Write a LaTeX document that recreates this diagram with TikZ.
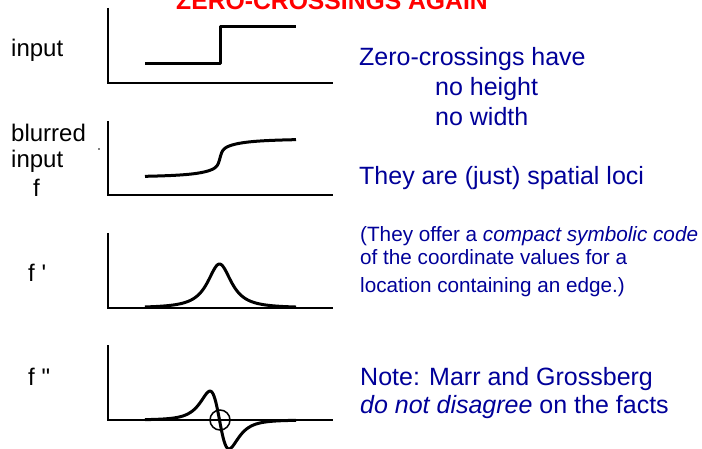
\documentclass[tikz,border=0pt]{standalone}
\usepackage{fontspec}
\setmainfont{Liberation Sans}
\usetikzlibrary{positioning}
\definecolor{navy}{RGB}{0,0,153}
\definecolor{title}{RGB}{255,0,0}

\begin{document}
\begin{tikzpicture}[
      x=1pt, y=-1pt,
      axis/.style={line width=2pt, black},
      curve/.style={line width=3pt, black, line join=round},
      lbl/.style={anchor=base west, font=\fontsize{24}{28}\selectfont, inner sep=0pt},
      note/.style={anchor=base west, font=\fontsize{25}{30}\selectfont, text=navy, inner sep=0pt},
      small/.style={anchor=base west, font=\fontsize{20.7}{24}\selectfont, text=navy, inner sep=0pt}
    ]
      \useasboundingbox (0,0) rectangle (702,449);

      % title (cut at the top)
      \node[anchor=base, font=\fontsize{24.7}{28}\selectfont\bfseries, text=title, inner sep=0pt]
        (head) at (332,10) {ZERO-CROSSINGS AGAIN};

      % left labels
      \node[lbl] (linput) at (11,57) {input};
      \node[lbl] (lblur) at (11,142) {blurred};
      \node[lbl] (lblin) at (11,168) {input};
      \node[lbl] (lf) at (33,197) {f};
      \node[lbl] (lfp) at (28,282) {f \textquotesingle};
      \node[lbl] (lfpp) at (28,385) {f \textquotedbl};
      \fill (99,149) circle (0.9);

      % axes
      \foreach \top/\bot in {8/83, 121/195, 233/308, 345/420}
        \draw[axis] (108,\top) -- (108,\bot) -- (333,\bot);

      % input step
      \draw[curve] (145,64) -- (220,64) -- (220,27) -- (296,27);
      % blurred input
      \draw[curve] plot[domain=145:296, samples=200]
        (\x, {158 - 11*atan((\x-220)/2)/90 - 9*atan((\x-220)/20)/90});
      % first derivative
      \draw[curve] plot[domain=145:296, samples=200]
        (\x, {308 - 44/(1+((\x-219.5)/16)^2)^1.2});
      % second derivative
      \draw[curve] plot[domain=145:296, samples=200]
        (\x, {420 + 101*((\x-219.5)/19)/(1+((\x-219.5)/19)^2)^2.5});
      \draw[line width=1.5pt] (220,420) circle (10);

      % text on the right
      \node[note] (zc) at (359,66) {Zero-crossings have};
      \node[note] (nh) at (435,96) {no height};
      \node[note] (nw) at (435,126) {no width};
      \node[note] (loci) at (359,185) {They are (just) spatial loci};
      \node[small] (off1) at (360,242) {(They offer a \textit{compact symbolic code}};
      \node[small] (off2) at (360,265) {of the coordinate values for a};
      \node[small] (off3) at (360,293) {location containing an edge.)};
      \node[note] (marr) at (360,385) {Note: Marr and Grossberg};
      \node[note] (facts) at (360,413) {\textit{do not disagree} on the facts};
    \end{tikzpicture}
\end{document}
